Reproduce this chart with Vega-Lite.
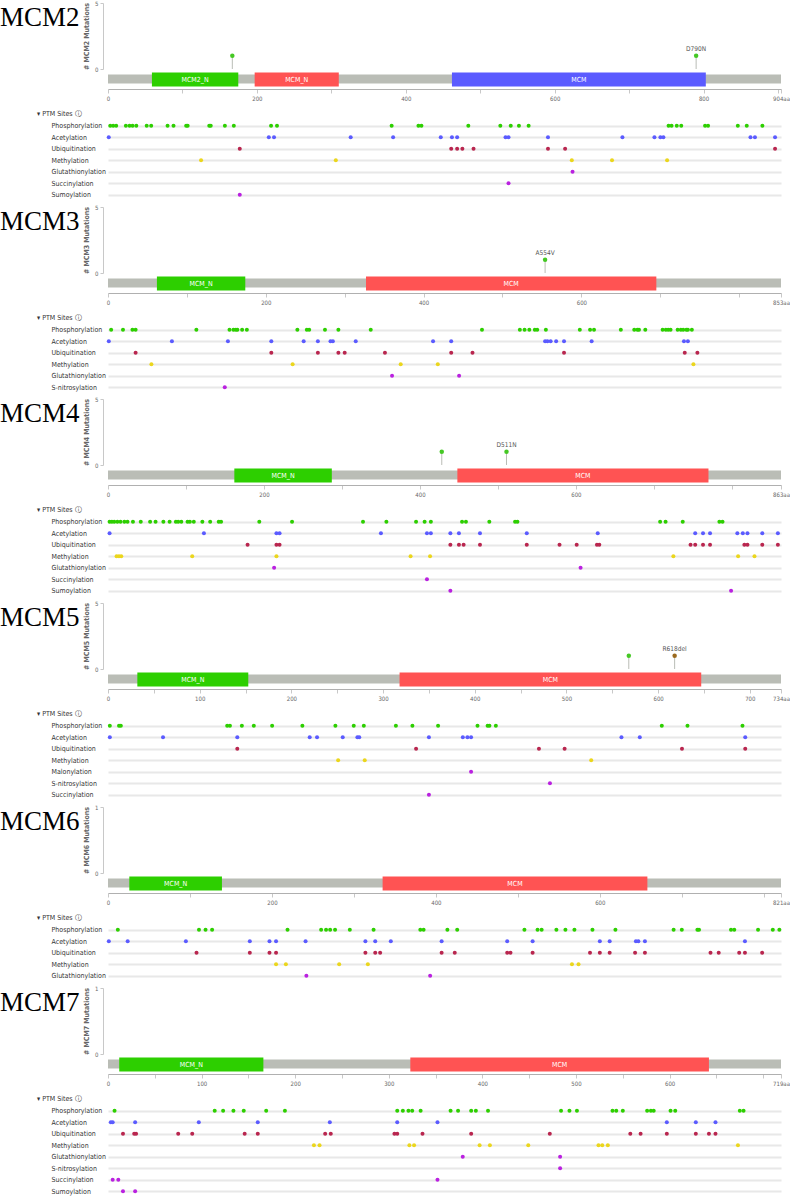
{
"$schema": "https://vega.github.io/schema/vega-lite/v6.json",
"background": "white",
"padding": {"left": 0, "top": 0, "right": 0, "bottom": 0},
"spacing": 3,
"resolve": {"scale": {"color": "independent"}},
"config": {
  "view": {"stroke": null},
  "axis": {"labelFont": "Liberation Sans Narrow, DejaVu Sans Condensed, Liberation Sans", "titleFont": "Liberation Sans Narrow, DejaVu Sans Condensed, Liberation Sans"},
  "title": {"font": "Liberation Sans Narrow, DejaVu Sans Condensed, Liberation Sans"},
  "text": {"font": "Liberation Sans Narrow, DejaVu Sans Condensed, Liberation Sans"}
},
"datasets": {
  "proteins": [
    {"gene": "MCM2", "start": 0, "length": 904}, {"gene": "MCM3", "start": 0, "length": 853}, {"gene": "MCM4", "start": 0, "length": 863},
    {"gene": "MCM5", "start": 0, "length": 734}, {"gene": "MCM6", "start": 0, "length": 821}, {"gene": "MCM7", "start": 0, "length": 719}
  ],
  "domains": [
    {"gene": "MCM2", "name": "MCM2_N", "start": 59, "end": 175, "idx": 1},
    {"gene": "MCM2", "name": "MCM_N", "start": 197, "end": 310, "idx": 2},
    {"gene": "MCM2", "name": "MCM", "start": 462, "end": 803, "idx": 3},
    {"gene": "MCM3", "name": "MCM_N", "start": 62, "end": 174, "idx": 1},
    {"gene": "MCM3", "name": "MCM", "start": 327, "end": 695, "idx": 2},
    {"gene": "MCM4", "name": "MCM_N", "start": 162, "end": 287, "idx": 1},
    {"gene": "MCM4", "name": "MCM", "start": 448, "end": 770, "idx": 2},
    {"gene": "MCM5", "name": "MCM_N", "start": 32, "end": 153, "idx": 1},
    {"gene": "MCM5", "name": "MCM", "start": 318, "end": 647, "idx": 2},
    {"gene": "MCM6", "name": "MCM_N", "start": 26, "end": 139, "idx": 1},
    {"gene": "MCM6", "name": "MCM", "start": 335, "end": 658, "idx": 2},
    {"gene": "MCM7", "name": "MCM_N", "start": 12, "end": 166, "idx": 1},
    {"gene": "MCM7", "name": "MCM", "start": 323, "end": 642, "idx": 2}
  ],
  "mutations": [
    {"gene": "MCM2", "pos": 167, "count": 1, "label": "", "kind": "Missense"},
    {"gene": "MCM2", "pos": 790, "count": 1, "label": "D790N", "kind": "Missense"},
    {"gene": "MCM3", "pos": 554, "count": 1, "label": "A554V", "kind": "Missense"},
    {"gene": "MCM4", "pos": 428, "count": 1, "label": "", "kind": "Missense"},
    {"gene": "MCM4", "pos": 511, "count": 1, "label": "D511N", "kind": "Missense"},
    {"gene": "MCM5", "pos": 568, "count": 1, "label": "", "kind": "Missense"},
    {"gene": "MCM5", "pos": 618, "count": 1, "label": "R618del", "kind": "Inframe"}
  ],
  "ptm": [
    {"gene": "MCM2", "type": "Phosphorylation", "pos": [3, 7, 11, 24, 29, 33, 38, 52, 58, 80, 88, 105, 107, 136, 138, 157, 169, 219, 227, 381, 417, 421, 484, 527, 541, 552, 565, 753, 757, 764, 770, 802, 806, 846, 858, 879]},
    {"gene": "MCM2", "type": "Acetylation", "pos": [1, 216, 223, 326, 383, 447, 462, 469, 534, 538, 591, 691, 734, 742, 746, 863, 869, 896]},
    {"gene": "MCM2", "type": "Ubiquitination", "pos": [177, 461, 469, 476, 491, 591, 614, 896]},
    {"gene": "MCM2", "type": "Methylation", "pos": [125, 306, 623, 677, 751]},
    {"gene": "MCM2", "type": "Glutathionylation", "pos": [624]},
    {"gene": "MCM2", "type": "Succinylation", "pos": [538]},
    {"gene": "MCM2", "type": "Sumoylation", "pos": [177]},
    {"gene": "MCM3", "type": "Phosphorylation", "pos": [4, 19, 31, 35, 112, 154, 159, 162, 164, 170, 176, 240, 252, 255, 275, 292, 333, 474, 522, 528, 534, 541, 544, 555, 598, 611, 616, 650, 667, 671, 673, 681, 703, 707, 710, 713, 722, 726, 729, 733, 735, 740]},
    {"gene": "MCM3", "type": "Acetylation", "pos": [1, 81, 152, 207, 248, 266, 282, 285, 314, 412, 435, 554, 557, 561, 568, 578, 613, 730, 735]},
    {"gene": "MCM3", "type": "Ubiquitination", "pos": [35, 207, 266, 292, 300, 351, 435, 462, 578, 731, 747]},
    {"gene": "MCM3", "type": "Methylation", "pos": [55, 234, 371, 418, 742]},
    {"gene": "MCM3", "type": "Glutathionylation", "pos": [360, 445]},
    {"gene": "MCM3", "type": "S-nitrosylation", "pos": [148]},
    {"gene": "MCM4", "type": "Phosphorylation", "pos": [2, 5, 8, 12, 16, 21, 25, 32, 42, 54, 61, 71, 79, 87, 90, 94, 102, 105, 110, 121, 131, 142, 145, 194, 236, 327, 357, 395, 406, 414, 454, 459, 489, 522, 525, 708, 715, 737, 784, 788]},
    {"gene": "MCM4", "type": "Acetylation", "pos": [2, 123, 216, 220, 350, 409, 414, 439, 450, 477, 537, 628, 753, 763, 772, 807, 814, 820, 839, 859]},
    {"gene": "MCM4", "type": "Ubiquitination", "pos": [179, 216, 220, 439, 450, 456, 477, 537, 579, 601, 627, 630, 747, 753, 763, 772, 816, 820, 839, 859]},
    {"gene": "MCM4", "type": "Methylation", "pos": [11, 14, 17, 108, 216, 388, 413, 725, 808, 829]},
    {"gene": "MCM4", "type": "Glutathionylation", "pos": [213, 606]},
    {"gene": "MCM4", "type": "Succinylation", "pos": [409]},
    {"gene": "MCM4", "type": "Sumoylation", "pos": [439, 799]},
    {"gene": "MCM5", "type": "Phosphorylation", "pos": [2, 12, 14, 130, 133, 146, 159, 179, 212, 248, 268, 279, 314, 332, 360, 403, 414, 416, 423, 604, 632, 692]},
    {"gene": "MCM5", "type": "Acetylation", "pos": [2, 60, 141, 220, 228, 256, 272, 274, 350, 387, 392, 396, 560, 580, 695]},
    {"gene": "MCM5", "type": "Ubiquitination", "pos": [141, 336, 470, 498, 626, 695]},
    {"gene": "MCM5", "type": "Methylation", "pos": [251, 280, 527]},
    {"gene": "MCM5", "type": "Malonylation", "pos": [396]},
    {"gene": "MCM5", "type": "S-nitrosylation", "pos": [482]},
    {"gene": "MCM5", "type": "Succinylation", "pos": [350]},
    {"gene": "MCM6", "type": "Phosphorylation", "pos": [12, 111, 119, 127, 219, 260, 266, 271, 277, 295, 324, 381, 385, 414, 426, 508, 524, 529, 547, 558, 569, 591, 619, 690, 700, 719, 721, 760, 764, 793, 811, 819]},
    {"gene": "MCM6", "type": "Acetylation", "pos": [1, 24, 95, 173, 197, 205, 241, 314, 326, 345, 407, 487, 518, 600, 612, 644, 647, 655, 777]},
    {"gene": "MCM6", "type": "Ubiquitination", "pos": [108, 173, 197, 205, 314, 326, 332, 407, 423, 487, 491, 518, 588, 600, 612, 643, 655, 735, 745, 770, 777, 798]},
    {"gene": "MCM6", "type": "Methylation", "pos": [205, 217, 282, 317, 566, 574]},
    {"gene": "MCM6", "type": "Glutathionylation", "pos": [242, 393]},
    {"gene": "MCM7", "type": "Phosphorylation", "pos": [7, 114, 123, 134, 145, 169, 189, 309, 315, 321, 325, 334, 366, 374, 388, 393, 406, 484, 493, 501, 539, 543, 550, 576, 580, 583, 601, 606, 675, 679]},
    {"gene": "MCM7", "type": "Acetylation", "pos": [3, 5, 29, 97, 160, 237, 309, 352, 597, 628, 649]},
    {"gene": "MCM7", "type": "Ubiquitination", "pos": [16, 28, 30, 75, 90, 146, 160, 232, 238, 306, 309, 336, 388, 472, 558, 569, 597, 628, 642, 649]},
    {"gene": "MCM7", "type": "Methylation", "pos": [220, 226, 322, 327, 397, 408, 449, 524, 528, 534, 673]},
    {"gene": "MCM7", "type": "Glutathionylation", "pos": [379, 483]},
    {"gene": "MCM7", "type": "S-nitrosylation", "pos": [483]},
    {"gene": "MCM7", "type": "Succinylation", "pos": [5, 11, 352]},
    {"gene": "MCM7", "type": "Sumoylation", "pos": [16, 29]}
  ]
},
"vconcat": [
{"spacing": 9, "resolve": {"scale": {"color": "independent"}}, "vconcat": [
  {"spacing": 0, "resolve": {"scale": {"color": "independent"}}, "vconcat": [
    {"width": 673, "height": 66,
     "title": {"text": "MCM2", "orient": "left", "anchor": "end", "angle": 0, "align": "left", "baseline": "top", "font": "Liberation Serif", "fontSize": 27, "fontWeight": "normal", "color": "#000000", "offset": 3, "dy": 5, "limit": 300, "frame": "bounds"},
     "data": {"name": "mutations"},
     "transform": [{"filter": "datum.gene == 'MCM2'"}],
     "encoding": {"x": {"field": "pos", "type": "quantitative", "scale": {"domain": [0, 904], "nice": false, "zero": false}, "axis": null}},
     "layer": [
       {"mark": {"type": "rule", "color": "#BABDB6", "strokeWidth": 1},
        "encoding": {"y": {"field": "count", "type": "quantitative", "scale": {"domain": [0, 5], "nice": false}, "axis": {"title": "# MCM2 Mutations", "values": [0, 1, 2, 3, 4, 5], "labelExpr": "datum.value == 0 || datum.value == 5 ? datum.label : ''", "grid": false, "offset": 5, "tickSize": 3, "tickColor": "#c8c8c8", "domainColor": "#c8c8c8", "labelColor": "#666666", "labelFontSize": 6, "labelPadding": 2, "titleFontSize": 7, "titleColor": "#666666", "titleFontWeight": "bold", "titlePadding": 5, "labelOverlap": false, "labelFlush": false}}, "y2": {"datum": 0}}},
       {"mark": {"type": "circle", "size": 20, "opacity": 1},
        "encoding": {"y": {"field": "count", "type": "quantitative"}, "color": {"field": "kind", "type": "nominal", "scale": {"domain": ["Missense", "Inframe"], "range": ["#45c824", "#9b6a1e"]}, "legend": null}}},
       {"transform": [{"filter": "datum.label != ''"}], "mark": {"type": "text", "fontSize": 6.5, "dy": -7, "color": "#555555"},
        "encoding": {"y": {"field": "count", "type": "quantitative"}, "text": {"field": "label", "type": "nominal"}}}
     ]},
    {"width": 673, "height": 16,
     "layer": [
       {"data": {"name": "proteins"}, "transform": [{"filter": "datum.gene == 'MCM2'"}],
        "mark": {"type": "rect", "color": "#BABDB6"},
        "encoding": {"x": {"field": "start", "type": "quantitative", "scale": {"domain": [0, 904], "nice": false, "zero": false}, "axis": {"title": null, "values": [0, 100, 200, 300, 400, 500, 600, 700, 800, 900, 904], "labelExpr": "datum.value == 904 ? '904aa' : datum.value % 200 == 0 ? datum.label : ''", "grid": false, "tickSize": 4, "tickColor": "#c8c8c8", "domainColor": "#b0b0b0", "labelColor": "#666666", "labelFontSize": 6, "labelPadding": 2, "labelFlush": false, "labelOverlap": false, "labelBound": false}},
                     "x2": {"field": "length"},
                     "y": {"datum": 5.5, "type": "quantitative", "scale": {"domain": [0, 16], "nice": false}, "axis": null}, "y2": {"datum": 14.5}}},
       {"data": {"name": "domains"}, "transform": [{"filter": "datum.gene == 'MCM2'"}],
        "mark": {"type": "rect"},
        "encoding": {"x": {"field": "start", "type": "quantitative"}, "x2": {"field": "end"}, "y": {"datum": 2.5, "type": "quantitative"}, "y2": {"datum": 16.5},
                     "color": {"field": "idx", "type": "ordinal", "scale": {"domain": [1, 2, 3], "range": ["#2DCF00", "#FF5353", "#5B5BFF"]}, "legend": null}}},
       {"data": {"name": "domains"}, "transform": [{"filter": "datum.gene == 'MCM2'"}, {"calculate": "(datum.start + datum.end) / 2", "as": "mid"}],
        "mark": {"type": "text", "color": "#ffffff", "fontSize": 7},
        "encoding": {"x": {"field": "mid", "type": "quantitative"}, "y": {"datum": 9.5, "type": "quantitative"}, "text": {"field": "name", "type": "nominal"}}}
     ]}
  ]},
  {"width": 673, "height": {"step": 11.5},
   "title": {"text": "▾ PTM Sites ⓘ", "anchor": "start", "frame": "bounds", "dx": -14, "fontSize": 7, "fontWeight": "normal", "color": "#333333", "offset": 3},
   "data": {"name": "ptm"},
   "transform": [{"filter": "datum.gene == 'MCM2'"}, {"flatten": ["pos"]}],
   "mark": {"type": "circle", "size": 16, "opacity": 1},
   "encoding": {
     "x": {"field": "pos", "type": "quantitative", "scale": {"domain": [0, 904], "nice": false, "zero": false}, "axis": null},
     "y": {"field": "type", "type": "nominal", "scale": {"domain": ["Phosphorylation", "Acetylation", "Ubiquitination", "Methylation", "Glutathionylation", "Succinylation", "Sumoylation"]}, "axis": {"title": null, "ticks": false, "tickSize": 0, "domain": false, "grid": true, "gridColor": "#e8e8e8", "gridWidth": 2, "labelAlign": "left", "labelPadding": 57, "labelFontSize": 7, "labelColor": "#333333"}},
     "color": {"field": "type", "type": "nominal", "scale": {"domain": ["Phosphorylation", "Acetylation", "Ubiquitination", "Methylation", "Glutathionylation", "Succinylation", "Sumoylation", "S-nitrosylation", "Malonylation"], "range": ["#2DCF00", "#5B5BFF", "#B9264F", "#EBD61D", "#BA21E0", "#BA21E0", "#BA21E0", "#BA21E0", "#BA21E0"]}, "legend": null}
   }}
]},
{"spacing": 9, "resolve": {"scale": {"color": "independent"}}, "vconcat": [
  {"spacing": 0, "resolve": {"scale": {"color": "independent"}}, "vconcat": [
    {"width": 673, "height": 66,
     "title": {"text": "MCM3", "orient": "left", "anchor": "end", "angle": 0, "align": "left", "baseline": "top", "font": "Liberation Serif", "fontSize": 27, "fontWeight": "normal", "color": "#000000", "offset": 3, "dy": 5, "limit": 300, "frame": "bounds"},
     "data": {"name": "mutations"},
     "transform": [{"filter": "datum.gene == 'MCM3'"}],
     "encoding": {"x": {"field": "pos", "type": "quantitative", "scale": {"domain": [0, 853], "nice": false, "zero": false}, "axis": null}},
     "layer": [
       {"mark": {"type": "rule", "color": "#BABDB6", "strokeWidth": 1},
        "encoding": {"y": {"field": "count", "type": "quantitative", "scale": {"domain": [0, 5], "nice": false}, "axis": {"title": "# MCM3 Mutations", "values": [0, 1, 2, 3, 4, 5], "labelExpr": "datum.value == 0 || datum.value == 5 ? datum.label : ''", "grid": false, "offset": 5, "tickSize": 3, "tickColor": "#c8c8c8", "domainColor": "#c8c8c8", "labelColor": "#666666", "labelFontSize": 6, "labelPadding": 2, "titleFontSize": 7, "titleColor": "#666666", "titleFontWeight": "bold", "titlePadding": 5, "labelOverlap": false, "labelFlush": false}}, "y2": {"datum": 0}}},
       {"mark": {"type": "circle", "size": 20, "opacity": 1},
        "encoding": {"y": {"field": "count", "type": "quantitative"}, "color": {"field": "kind", "type": "nominal", "scale": {"domain": ["Missense", "Inframe"], "range": ["#45c824", "#9b6a1e"]}, "legend": null}}},
       {"transform": [{"filter": "datum.label != ''"}], "mark": {"type": "text", "fontSize": 6.5, "dy": -7, "color": "#555555"},
        "encoding": {"y": {"field": "count", "type": "quantitative"}, "text": {"field": "label", "type": "nominal"}}}
     ]},
    {"width": 673, "height": 16,
     "layer": [
       {"data": {"name": "proteins"}, "transform": [{"filter": "datum.gene == 'MCM3'"}],
        "mark": {"type": "rect", "color": "#BABDB6"},
        "encoding": {"x": {"field": "start", "type": "quantitative", "scale": {"domain": [0, 853], "nice": false, "zero": false}, "axis": {"title": null, "values": [0, 100, 200, 300, 400, 500, 600, 700, 800, 853], "labelExpr": "datum.value == 853 ? '853aa' : (datum.value % 200 == 0 && datum.value < 800) ? datum.label : ''", "grid": false, "tickSize": 4, "tickColor": "#c8c8c8", "domainColor": "#b0b0b0", "labelColor": "#666666", "labelFontSize": 6, "labelPadding": 2, "labelFlush": false, "labelOverlap": false, "labelBound": false}},
                     "x2": {"field": "length"},
                     "y": {"datum": 5.5, "type": "quantitative", "scale": {"domain": [0, 16], "nice": false}, "axis": null}, "y2": {"datum": 14.5}}},
       {"data": {"name": "domains"}, "transform": [{"filter": "datum.gene == 'MCM3'"}],
        "mark": {"type": "rect"},
        "encoding": {"x": {"field": "start", "type": "quantitative"}, "x2": {"field": "end"}, "y": {"datum": 2.5, "type": "quantitative"}, "y2": {"datum": 16.5},
                     "color": {"field": "idx", "type": "ordinal", "scale": {"domain": [1, 2, 3], "range": ["#2DCF00", "#FF5353", "#5B5BFF"]}, "legend": null}}},
       {"data": {"name": "domains"}, "transform": [{"filter": "datum.gene == 'MCM3'"}, {"calculate": "(datum.start + datum.end) / 2", "as": "mid"}],
        "mark": {"type": "text", "color": "#ffffff", "fontSize": 7},
        "encoding": {"x": {"field": "mid", "type": "quantitative"}, "y": {"datum": 9.5, "type": "quantitative"}, "text": {"field": "name", "type": "nominal"}}}
     ]}
  ]},
  {"width": 673, "height": {"step": 11.5},
   "title": {"text": "▾ PTM Sites ⓘ", "anchor": "start", "frame": "bounds", "dx": -14, "fontSize": 7, "fontWeight": "normal", "color": "#333333", "offset": 3},
   "data": {"name": "ptm"},
   "transform": [{"filter": "datum.gene == 'MCM3'"}, {"flatten": ["pos"]}],
   "mark": {"type": "circle", "size": 16, "opacity": 1},
   "encoding": {
     "x": {"field": "pos", "type": "quantitative", "scale": {"domain": [0, 853], "nice": false, "zero": false}, "axis": null},
     "y": {"field": "type", "type": "nominal", "scale": {"domain": ["Phosphorylation", "Acetylation", "Ubiquitination", "Methylation", "Glutathionylation", "S-nitrosylation"]}, "axis": {"title": null, "ticks": false, "tickSize": 0, "domain": false, "grid": true, "gridColor": "#e8e8e8", "gridWidth": 2, "labelAlign": "left", "labelPadding": 57, "labelFontSize": 7, "labelColor": "#333333"}},
     "color": {"field": "type", "type": "nominal", "scale": {"domain": ["Phosphorylation", "Acetylation", "Ubiquitination", "Methylation", "Glutathionylation", "Succinylation", "Sumoylation", "S-nitrosylation", "Malonylation"], "range": ["#2DCF00", "#5B5BFF", "#B9264F", "#EBD61D", "#BA21E0", "#BA21E0", "#BA21E0", "#BA21E0", "#BA21E0"]}, "legend": null}
   }}
]},
{"spacing": 9, "resolve": {"scale": {"color": "independent"}}, "vconcat": [
  {"spacing": 0, "resolve": {"scale": {"color": "independent"}}, "vconcat": [
    {"width": 673, "height": 66,
     "title": {"text": "MCM4", "orient": "left", "anchor": "end", "angle": 0, "align": "left", "baseline": "top", "font": "Liberation Serif", "fontSize": 27, "fontWeight": "normal", "color": "#000000", "offset": 3, "dy": 5, "limit": 300, "frame": "bounds"},
     "data": {"name": "mutations"},
     "transform": [{"filter": "datum.gene == 'MCM4'"}],
     "encoding": {"x": {"field": "pos", "type": "quantitative", "scale": {"domain": [0, 863], "nice": false, "zero": false}, "axis": null}},
     "layer": [
       {"mark": {"type": "rule", "color": "#BABDB6", "strokeWidth": 1},
        "encoding": {"y": {"field": "count", "type": "quantitative", "scale": {"domain": [0, 5], "nice": false}, "axis": {"title": "# MCM4 Mutations", "values": [0, 1, 2, 3, 4, 5], "labelExpr": "datum.value == 0 || datum.value == 5 ? datum.label : ''", "grid": false, "offset": 5, "tickSize": 3, "tickColor": "#c8c8c8", "domainColor": "#c8c8c8", "labelColor": "#666666", "labelFontSize": 6, "labelPadding": 2, "titleFontSize": 7, "titleColor": "#666666", "titleFontWeight": "bold", "titlePadding": 5, "labelOverlap": false, "labelFlush": false}}, "y2": {"datum": 0}}},
       {"mark": {"type": "circle", "size": 20, "opacity": 1},
        "encoding": {"y": {"field": "count", "type": "quantitative"}, "color": {"field": "kind", "type": "nominal", "scale": {"domain": ["Missense", "Inframe"], "range": ["#45c824", "#9b6a1e"]}, "legend": null}}},
       {"transform": [{"filter": "datum.label != ''"}], "mark": {"type": "text", "fontSize": 6.5, "dy": -7, "color": "#555555"},
        "encoding": {"y": {"field": "count", "type": "quantitative"}, "text": {"field": "label", "type": "nominal"}}}
     ]},
    {"width": 673, "height": 16,
     "layer": [
       {"data": {"name": "proteins"}, "transform": [{"filter": "datum.gene == 'MCM4'"}],
        "mark": {"type": "rect", "color": "#BABDB6"},
        "encoding": {"x": {"field": "start", "type": "quantitative", "scale": {"domain": [0, 863], "nice": false, "zero": false}, "axis": {"title": null, "values": [0, 100, 200, 300, 400, 500, 600, 700, 800, 863], "labelExpr": "datum.value == 863 ? '863aa' : (datum.value % 200 == 0 && datum.value < 800) ? datum.label : ''", "grid": false, "tickSize": 4, "tickColor": "#c8c8c8", "domainColor": "#b0b0b0", "labelColor": "#666666", "labelFontSize": 6, "labelPadding": 2, "labelFlush": false, "labelOverlap": false, "labelBound": false}},
                     "x2": {"field": "length"},
                     "y": {"datum": 5.5, "type": "quantitative", "scale": {"domain": [0, 16], "nice": false}, "axis": null}, "y2": {"datum": 14.5}}},
       {"data": {"name": "domains"}, "transform": [{"filter": "datum.gene == 'MCM4'"}],
        "mark": {"type": "rect"},
        "encoding": {"x": {"field": "start", "type": "quantitative"}, "x2": {"field": "end"}, "y": {"datum": 2.5, "type": "quantitative"}, "y2": {"datum": 16.5},
                     "color": {"field": "idx", "type": "ordinal", "scale": {"domain": [1, 2, 3], "range": ["#2DCF00", "#FF5353", "#5B5BFF"]}, "legend": null}}},
       {"data": {"name": "domains"}, "transform": [{"filter": "datum.gene == 'MCM4'"}, {"calculate": "(datum.start + datum.end) / 2", "as": "mid"}],
        "mark": {"type": "text", "color": "#ffffff", "fontSize": 7},
        "encoding": {"x": {"field": "mid", "type": "quantitative"}, "y": {"datum": 9.5, "type": "quantitative"}, "text": {"field": "name", "type": "nominal"}}}
     ]}
  ]},
  {"width": 673, "height": {"step": 11.5},
   "title": {"text": "▾ PTM Sites ⓘ", "anchor": "start", "frame": "bounds", "dx": -14, "fontSize": 7, "fontWeight": "normal", "color": "#333333", "offset": 3},
   "data": {"name": "ptm"},
   "transform": [{"filter": "datum.gene == 'MCM4'"}, {"flatten": ["pos"]}],
   "mark": {"type": "circle", "size": 16, "opacity": 1},
   "encoding": {
     "x": {"field": "pos", "type": "quantitative", "scale": {"domain": [0, 863], "nice": false, "zero": false}, "axis": null},
     "y": {"field": "type", "type": "nominal", "scale": {"domain": ["Phosphorylation", "Acetylation", "Ubiquitination", "Methylation", "Glutathionylation", "Succinylation", "Sumoylation"]}, "axis": {"title": null, "ticks": false, "tickSize": 0, "domain": false, "grid": true, "gridColor": "#e8e8e8", "gridWidth": 2, "labelAlign": "left", "labelPadding": 57, "labelFontSize": 7, "labelColor": "#333333"}},
     "color": {"field": "type", "type": "nominal", "scale": {"domain": ["Phosphorylation", "Acetylation", "Ubiquitination", "Methylation", "Glutathionylation", "Succinylation", "Sumoylation", "S-nitrosylation", "Malonylation"], "range": ["#2DCF00", "#5B5BFF", "#B9264F", "#EBD61D", "#BA21E0", "#BA21E0", "#BA21E0", "#BA21E0", "#BA21E0"]}, "legend": null}
   }}
]},
{"spacing": 9, "resolve": {"scale": {"color": "independent"}}, "vconcat": [
  {"spacing": 0, "resolve": {"scale": {"color": "independent"}}, "vconcat": [
    {"width": 673, "height": 66,
     "title": {"text": "MCM5", "orient": "left", "anchor": "end", "angle": 0, "align": "left", "baseline": "top", "font": "Liberation Serif", "fontSize": 27, "fontWeight": "normal", "color": "#000000", "offset": 3, "dy": 5, "limit": 300, "frame": "bounds"},
     "data": {"name": "mutations"},
     "transform": [{"filter": "datum.gene == 'MCM5'"}],
     "encoding": {"x": {"field": "pos", "type": "quantitative", "scale": {"domain": [0, 734], "nice": false, "zero": false}, "axis": null}},
     "layer": [
       {"mark": {"type": "rule", "color": "#BABDB6", "strokeWidth": 1},
        "encoding": {"y": {"field": "count", "type": "quantitative", "scale": {"domain": [0, 5], "nice": false}, "axis": {"title": "# MCM5 Mutations", "values": [0, 1, 2, 3, 4, 5], "labelExpr": "datum.value == 0 || datum.value == 5 ? datum.label : ''", "grid": false, "offset": 5, "tickSize": 3, "tickColor": "#c8c8c8", "domainColor": "#c8c8c8", "labelColor": "#666666", "labelFontSize": 6, "labelPadding": 2, "titleFontSize": 7, "titleColor": "#666666", "titleFontWeight": "bold", "titlePadding": 5, "labelOverlap": false, "labelFlush": false}}, "y2": {"datum": 0}}},
       {"mark": {"type": "circle", "size": 20, "opacity": 1},
        "encoding": {"y": {"field": "count", "type": "quantitative"}, "color": {"field": "kind", "type": "nominal", "scale": {"domain": ["Missense", "Inframe"], "range": ["#45c824", "#9b6a1e"]}, "legend": null}}},
       {"transform": [{"filter": "datum.label != ''"}], "mark": {"type": "text", "fontSize": 6.5, "dy": -7, "color": "#555555"},
        "encoding": {"y": {"field": "count", "type": "quantitative"}, "text": {"field": "label", "type": "nominal"}}}
     ]},
    {"width": 673, "height": 16,
     "layer": [
       {"data": {"name": "proteins"}, "transform": [{"filter": "datum.gene == 'MCM5'"}],
        "mark": {"type": "rect", "color": "#BABDB6"},
        "encoding": {"x": {"field": "start", "type": "quantitative", "scale": {"domain": [0, 734], "nice": false, "zero": false}, "axis": {"title": null, "values": [0, 50, 100, 150, 200, 250, 300, 350, 400, 450, 500, 550, 600, 650, 700, 734], "labelExpr": "datum.value == 734 ? '734aa' : datum.value % 100 == 0 ? datum.label : ''", "grid": false, "tickSize": 4, "tickColor": "#c8c8c8", "domainColor": "#b0b0b0", "labelColor": "#666666", "labelFontSize": 6, "labelPadding": 2, "labelFlush": false, "labelOverlap": false, "labelBound": false}},
                     "x2": {"field": "length"},
                     "y": {"datum": 5.5, "type": "quantitative", "scale": {"domain": [0, 16], "nice": false}, "axis": null}, "y2": {"datum": 14.5}}},
       {"data": {"name": "domains"}, "transform": [{"filter": "datum.gene == 'MCM5'"}],
        "mark": {"type": "rect"},
        "encoding": {"x": {"field": "start", "type": "quantitative"}, "x2": {"field": "end"}, "y": {"datum": 2.5, "type": "quantitative"}, "y2": {"datum": 16.5},
                     "color": {"field": "idx", "type": "ordinal", "scale": {"domain": [1, 2, 3], "range": ["#2DCF00", "#FF5353", "#5B5BFF"]}, "legend": null}}},
       {"data": {"name": "domains"}, "transform": [{"filter": "datum.gene == 'MCM5'"}, {"calculate": "(datum.start + datum.end) / 2", "as": "mid"}],
        "mark": {"type": "text", "color": "#ffffff", "fontSize": 7},
        "encoding": {"x": {"field": "mid", "type": "quantitative"}, "y": {"datum": 9.5, "type": "quantitative"}, "text": {"field": "name", "type": "nominal"}}}
     ]}
  ]},
  {"width": 673, "height": {"step": 11.5},
   "title": {"text": "▾ PTM Sites ⓘ", "anchor": "start", "frame": "bounds", "dx": -14, "fontSize": 7, "fontWeight": "normal", "color": "#333333", "offset": 3},
   "data": {"name": "ptm"},
   "transform": [{"filter": "datum.gene == 'MCM5'"}, {"flatten": ["pos"]}],
   "mark": {"type": "circle", "size": 16, "opacity": 1},
   "encoding": {
     "x": {"field": "pos", "type": "quantitative", "scale": {"domain": [0, 734], "nice": false, "zero": false}, "axis": null},
     "y": {"field": "type", "type": "nominal", "scale": {"domain": ["Phosphorylation", "Acetylation", "Ubiquitination", "Methylation", "Malonylation", "S-nitrosylation", "Succinylation"]}, "axis": {"title": null, "ticks": false, "tickSize": 0, "domain": false, "grid": true, "gridColor": "#e8e8e8", "gridWidth": 2, "labelAlign": "left", "labelPadding": 57, "labelFontSize": 7, "labelColor": "#333333"}},
     "color": {"field": "type", "type": "nominal", "scale": {"domain": ["Phosphorylation", "Acetylation", "Ubiquitination", "Methylation", "Glutathionylation", "Succinylation", "Sumoylation", "S-nitrosylation", "Malonylation"], "range": ["#2DCF00", "#5B5BFF", "#B9264F", "#EBD61D", "#BA21E0", "#BA21E0", "#BA21E0", "#BA21E0", "#BA21E0"]}, "legend": null}
   }}
]},
{"spacing": 9, "resolve": {"scale": {"color": "independent"}}, "vconcat": [
  {"spacing": 0, "resolve": {"scale": {"color": "independent"}}, "vconcat": [
    {"width": 673, "height": 66,
     "title": {"text": "MCM6", "orient": "left", "anchor": "end", "angle": 0, "align": "left", "baseline": "top", "font": "Liberation Serif", "fontSize": 27, "fontWeight": "normal", "color": "#000000", "offset": 3, "dy": 5, "limit": 300, "frame": "bounds"},
     "data": {"name": "mutations"},
     "transform": [{"filter": "datum.gene == 'MCM6'"}],
     "encoding": {"x": {"field": "pos", "type": "quantitative", "scale": {"domain": [0, 821], "nice": false, "zero": false}, "axis": null}},
     "layer": [
       {"mark": {"type": "rule", "color": "#BABDB6", "strokeWidth": 1},
        "encoding": {"y": {"field": "count", "type": "quantitative", "scale": {"domain": [0, 1], "nice": false}, "axis": {"title": "# MCM6 Mutations", "values": [0, 1], "format": "d", "grid": false, "offset": 5, "tickSize": 3, "tickColor": "#c8c8c8", "domainColor": "#c8c8c8", "labelColor": "#666666", "labelFontSize": 6, "labelPadding": 2, "titleFontSize": 7, "titleColor": "#666666", "titleFontWeight": "bold", "titlePadding": 5, "labelOverlap": false, "labelFlush": false}}, "y2": {"datum": 0}}},
       {"mark": {"type": "circle", "size": 20, "opacity": 1},
        "encoding": {"y": {"field": "count", "type": "quantitative"}, "color": {"field": "kind", "type": "nominal", "scale": {"domain": ["Missense", "Inframe"], "range": ["#45c824", "#9b6a1e"]}, "legend": null}}}
     ]},
    {"width": 673, "height": 16,
     "layer": [
       {"data": {"name": "proteins"}, "transform": [{"filter": "datum.gene == 'MCM6'"}],
        "mark": {"type": "rect", "color": "#BABDB6"},
        "encoding": {"x": {"field": "start", "type": "quantitative", "scale": {"domain": [0, 821], "nice": false, "zero": false}, "axis": {"title": null, "values": [0, 100, 200, 300, 400, 500, 600, 700, 800, 821], "labelExpr": "datum.value == 821 ? '821aa' : (datum.value % 200 == 0 && datum.value < 800) ? datum.label : ''", "grid": false, "tickSize": 4, "tickColor": "#c8c8c8", "domainColor": "#b0b0b0", "labelColor": "#666666", "labelFontSize": 6, "labelPadding": 2, "labelFlush": false, "labelOverlap": false, "labelBound": false}},
                     "x2": {"field": "length"},
                     "y": {"datum": 5.5, "type": "quantitative", "scale": {"domain": [0, 16], "nice": false}, "axis": null}, "y2": {"datum": 14.5}}},
       {"data": {"name": "domains"}, "transform": [{"filter": "datum.gene == 'MCM6'"}],
        "mark": {"type": "rect"},
        "encoding": {"x": {"field": "start", "type": "quantitative"}, "x2": {"field": "end"}, "y": {"datum": 2.5, "type": "quantitative"}, "y2": {"datum": 16.5},
                     "color": {"field": "idx", "type": "ordinal", "scale": {"domain": [1, 2, 3], "range": ["#2DCF00", "#FF5353", "#5B5BFF"]}, "legend": null}}},
       {"data": {"name": "domains"}, "transform": [{"filter": "datum.gene == 'MCM6'"}, {"calculate": "(datum.start + datum.end) / 2", "as": "mid"}],
        "mark": {"type": "text", "color": "#ffffff", "fontSize": 7},
        "encoding": {"x": {"field": "mid", "type": "quantitative"}, "y": {"datum": 9.5, "type": "quantitative"}, "text": {"field": "name", "type": "nominal"}}}
     ]}
  ]},
  {"width": 673, "height": {"step": 11.5},
   "title": {"text": "▾ PTM Sites ⓘ", "anchor": "start", "frame": "bounds", "dx": -14, "fontSize": 7, "fontWeight": "normal", "color": "#333333", "offset": 3},
   "data": {"name": "ptm"},
   "transform": [{"filter": "datum.gene == 'MCM6'"}, {"flatten": ["pos"]}],
   "mark": {"type": "circle", "size": 16, "opacity": 1},
   "encoding": {
     "x": {"field": "pos", "type": "quantitative", "scale": {"domain": [0, 821], "nice": false, "zero": false}, "axis": null},
     "y": {"field": "type", "type": "nominal", "scale": {"domain": ["Phosphorylation", "Acetylation", "Ubiquitination", "Methylation", "Glutathionylation"]}, "axis": {"title": null, "ticks": false, "tickSize": 0, "domain": false, "grid": true, "gridColor": "#e8e8e8", "gridWidth": 2, "labelAlign": "left", "labelPadding": 57, "labelFontSize": 7, "labelColor": "#333333"}},
     "color": {"field": "type", "type": "nominal", "scale": {"domain": ["Phosphorylation", "Acetylation", "Ubiquitination", "Methylation", "Glutathionylation", "Succinylation", "Sumoylation", "S-nitrosylation", "Malonylation"], "range": ["#2DCF00", "#5B5BFF", "#B9264F", "#EBD61D", "#BA21E0", "#BA21E0", "#BA21E0", "#BA21E0", "#BA21E0"]}, "legend": null}
   }}
]},
{"spacing": 9, "resolve": {"scale": {"color": "independent"}}, "vconcat": [
  {"spacing": 0, "resolve": {"scale": {"color": "independent"}}, "vconcat": [
    {"width": 673, "height": 66,
     "title": {"text": "MCM7", "orient": "left", "anchor": "end", "angle": 0, "align": "left", "baseline": "top", "font": "Liberation Serif", "fontSize": 27, "fontWeight": "normal", "color": "#000000", "offset": 3, "dy": 5, "limit": 300, "frame": "bounds"},
     "data": {"name": "mutations"},
     "transform": [{"filter": "datum.gene == 'MCM7'"}],
     "encoding": {"x": {"field": "pos", "type": "quantitative", "scale": {"domain": [0, 719], "nice": false, "zero": false}, "axis": null}},
     "layer": [
       {"mark": {"type": "rule", "color": "#BABDB6", "strokeWidth": 1},
        "encoding": {"y": {"field": "count", "type": "quantitative", "scale": {"domain": [0, 1], "nice": false}, "axis": {"title": "# MCM7 Mutations", "values": [0, 1], "format": "d", "grid": false, "offset": 5, "tickSize": 3, "tickColor": "#c8c8c8", "domainColor": "#c8c8c8", "labelColor": "#666666", "labelFontSize": 6, "labelPadding": 2, "titleFontSize": 7, "titleColor": "#666666", "titleFontWeight": "bold", "titlePadding": 5, "labelOverlap": false, "labelFlush": false}}, "y2": {"datum": 0}}},
       {"mark": {"type": "circle", "size": 20, "opacity": 1},
        "encoding": {"y": {"field": "count", "type": "quantitative"}, "color": {"field": "kind", "type": "nominal", "scale": {"domain": ["Missense", "Inframe"], "range": ["#45c824", "#9b6a1e"]}, "legend": null}}}
     ]},
    {"width": 673, "height": 16,
     "layer": [
       {"data": {"name": "proteins"}, "transform": [{"filter": "datum.gene == 'MCM7'"}],
        "mark": {"type": "rect", "color": "#BABDB6"},
        "encoding": {"x": {"field": "start", "type": "quantitative", "scale": {"domain": [0, 719], "nice": false, "zero": false}, "axis": {"title": null, "values": [0, 50, 100, 150, 200, 250, 300, 350, 400, 450, 500, 550, 600, 650, 700, 719], "labelExpr": "datum.value == 719 ? '719aa' : (datum.value % 100 == 0 && datum.value < 700) ? datum.label : ''", "grid": false, "tickSize": 4, "tickColor": "#c8c8c8", "domainColor": "#b0b0b0", "labelColor": "#666666", "labelFontSize": 6, "labelPadding": 2, "labelFlush": false, "labelOverlap": false, "labelBound": false}},
                     "x2": {"field": "length"},
                     "y": {"datum": 5.5, "type": "quantitative", "scale": {"domain": [0, 16], "nice": false}, "axis": null}, "y2": {"datum": 14.5}}},
       {"data": {"name": "domains"}, "transform": [{"filter": "datum.gene == 'MCM7'"}],
        "mark": {"type": "rect"},
        "encoding": {"x": {"field": "start", "type": "quantitative"}, "x2": {"field": "end"}, "y": {"datum": 2.5, "type": "quantitative"}, "y2": {"datum": 16.5},
                     "color": {"field": "idx", "type": "ordinal", "scale": {"domain": [1, 2, 3], "range": ["#2DCF00", "#FF5353", "#5B5BFF"]}, "legend": null}}},
       {"data": {"name": "domains"}, "transform": [{"filter": "datum.gene == 'MCM7'"}, {"calculate": "(datum.start + datum.end) / 2", "as": "mid"}],
        "mark": {"type": "text", "color": "#ffffff", "fontSize": 7},
        "encoding": {"x": {"field": "mid", "type": "quantitative"}, "y": {"datum": 9.5, "type": "quantitative"}, "text": {"field": "name", "type": "nominal"}}}
     ]}
  ]},
  {"width": 673, "height": {"step": 11.5},
   "title": {"text": "▾ PTM Sites ⓘ", "anchor": "start", "frame": "bounds", "dx": -14, "fontSize": 7, "fontWeight": "normal", "color": "#333333", "offset": 3},
   "data": {"name": "ptm"},
   "transform": [{"filter": "datum.gene == 'MCM7'"}, {"flatten": ["pos"]}],
   "mark": {"type": "circle", "size": 16, "opacity": 1},
   "encoding": {
     "x": {"field": "pos", "type": "quantitative", "scale": {"domain": [0, 719], "nice": false, "zero": false}, "axis": null},
     "y": {"field": "type", "type": "nominal", "scale": {"domain": ["Phosphorylation", "Acetylation", "Ubiquitination", "Methylation", "Glutathionylation", "S-nitrosylation", "Succinylation", "Sumoylation"]}, "axis": {"title": null, "ticks": false, "tickSize": 0, "domain": false, "grid": true, "gridColor": "#e8e8e8", "gridWidth": 2, "labelAlign": "left", "labelPadding": 57, "labelFontSize": 7, "labelColor": "#333333"}},
     "color": {"field": "type", "type": "nominal", "scale": {"domain": ["Phosphorylation", "Acetylation", "Ubiquitination", "Methylation", "Glutathionylation", "Succinylation", "Sumoylation", "S-nitrosylation", "Malonylation"], "range": ["#2DCF00", "#5B5BFF", "#B9264F", "#EBD61D", "#BA21E0", "#BA21E0", "#BA21E0", "#BA21E0", "#BA21E0"]}, "legend": null}
   }}
]}
]
}
